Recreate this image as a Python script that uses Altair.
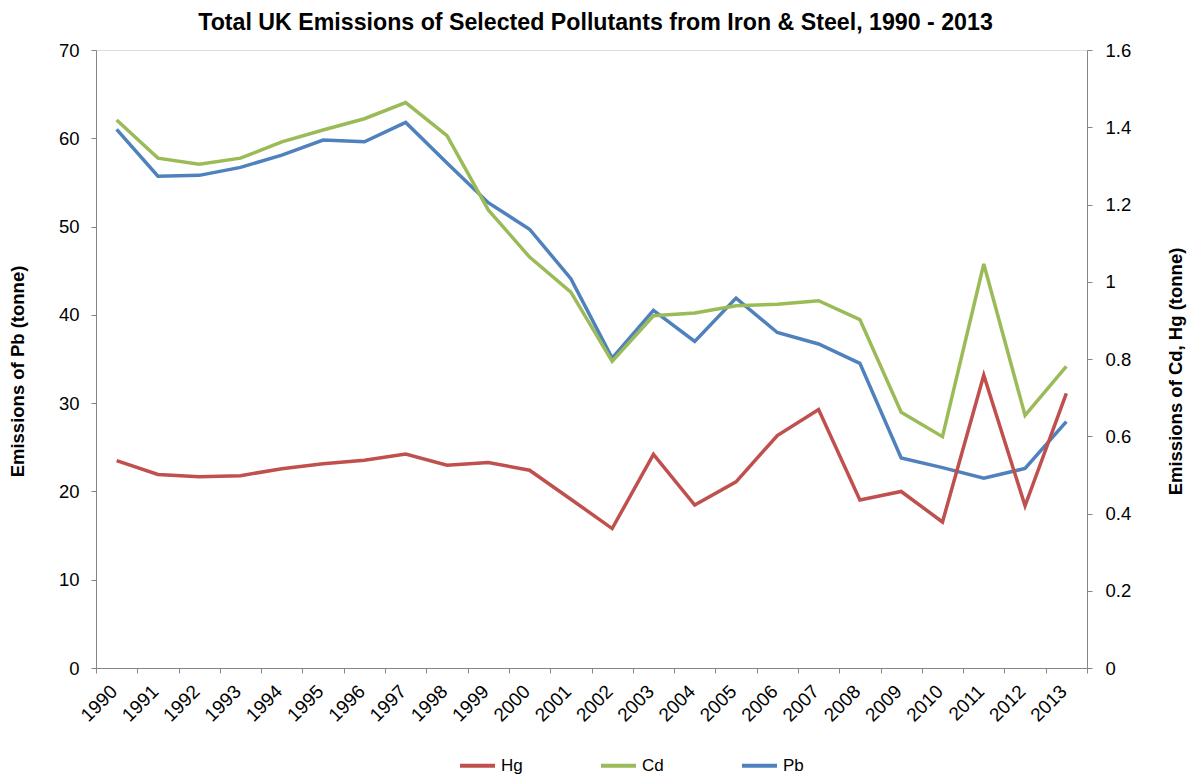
import altair as alt
import pandas as pd

# UK emissions from the iron & steel sector (tonnes)
years = [str(y) for y in range(1990, 2014)]
pb = [61.0, 55.7, 55.8, 56.7, 58.1, 59.8, 59.6, 61.8, 57.2, 52.7, 49.7, 44.1,
      35.1, 40.5, 37.0, 41.9, 38.0, 36.7, 34.5, 23.8, 22.7, 21.5, 22.6, 27.9]
cd = [1.419, 1.320, 1.304, 1.320, 1.362, 1.393, 1.422, 1.464, 1.378, 1.186, 1.064, 0.973,
      0.794, 0.912, 0.919, 0.938, 0.942, 0.951, 0.902, 0.662, 0.599, 1.046, 0.654, 0.781]
hg = [0.537, 0.501, 0.495, 0.498, 0.516, 0.529, 0.538, 0.554, 0.525, 0.532, 0.512, 0.437,
      0.361, 0.553, 0.422, 0.482, 0.602, 0.669, 0.435, 0.457, 0.378, 0.758, 0.420, 0.711]

series_names = ["Hg", "Cd", "Pb"]
series_colors = ["#C0504D", "#9BBB59", "#4F81BD"]
left_ticks = [0, 10, 20, 30, 40, 50, 60, 70]
right_ticks = [0, 0.2, 0.4, 0.6, 0.8, 1.0, 1.2, 1.4, 1.6]

rows = []
for name, vals in (("Hg", hg), ("Cd", cd), ("Pb", pb)):
    for y, v in zip(years, vals):
        rows.append({"year": y, "series": name, "value": v})
df = pd.DataFrame(rows)

FONT = "Liberation Sans"
AXIS_GREY = "#868686"

x_enc = alt.X(
    "year:O",
    scale=alt.Scale(type="band", paddingInner=0, paddingOuter=0),
    axis=alt.Axis(
        title=None, labelAngle=-45, labelAlign="right", labelBaseline="middle",
        labelFontSize=19, labelFont=FONT, labelColor="#000000",
        domainColor=AXIS_GREY, tickColor=AXIS_GREY, tickSize=5, tickBand="extent",
        labelPadding=15, labelOffset=-3,
    ),
)

color_enc = alt.Color(
    "series:N",
    scale=alt.Scale(domain=series_names, range=series_colors),
    legend=alt.Legend(
        title=None, orient="none", direction="horizontal", legendX=362, legendY=696,
        symbolType="stroke", symbolSize=1225, symbolStrokeWidth=4,
        labelFontSize=17, labelFont=FONT, labelColor="#000000", labelOffset=4,
        columnPadding=70,
    ),
)

pb_layer = alt.Chart(df).transform_filter(alt.datum.series == "Pb").mark_line(strokeWidth=3.5).encode(
    x=x_enc,
    y=alt.Y(
        "value:Q",
        scale=alt.Scale(domain=[0, 70], nice=False, zero=True),
        axis=alt.Axis(
            orient="left", values=left_ticks, grid=False, title="Emissions of Pb (tonne)",
            titleFont=FONT, titleFontSize=18.5, titleFontWeight="bold", titleColor="#000000",
            titleAngle=270, titleX=-79, titleY=321, titleAlign="center", titleBaseline="middle",
            labelFont=FONT, labelFontSize=18.5, labelColor="#000000", labelPadding=12,
            domainColor=AXIS_GREY, tickColor=AXIS_GREY, tickSize=5,
        ),
    ),
    color=color_enc,
)

cdhg_layer = alt.Chart(df).transform_filter(alt.datum.series != "Pb").mark_line(strokeWidth=3.5).encode(
    x=x_enc,
    y=alt.Y(
        "value:Q",
        scale=alt.Scale(domain=[0, 1.6], nice=False, zero=True),
        axis=alt.Axis(
            orient="right", values=right_ticks, format="~g", grid=False,
            title="Emissions of Cd, Hg (tonne)",
            titleFont=FONT, titleFontSize=18.5, titleFontWeight="bold", titleColor="#000000",
            titleAngle=270, titleX=88, titleY=321, titleAlign="center", titleBaseline="middle",
            labelFont=FONT, labelFontSize=18.5, labelColor="#000000", labelPadding=13,
            domainColor=AXIS_GREY, tickColor=AXIS_GREY, tickSize=5,
        ),
    ),
    color=color_enc,
)

chart = (
    alt.layer(pb_layer, cdhg_layer)
    .resolve_scale(y="independent")
    .properties(
        width=991,
        height=618,
        padding={"left": 96, "top": 50, "right": 104, "bottom": 108},
        autosize=alt.AutoSizeParams(type="none"),
        title=alt.TitleParams(
            text="Total UK Emissions of Selected Pollutants from Iron & Steel, 1990 - 2013",
            font=FONT, fontSize=23.2, fontWeight="bold", color="#000000",
            anchor="middle", offset=6, dx=4,
        ),
    )
    .configure_view(stroke=None)
    .configure(background="#ffffff")
)

chart.save("out.html", embed_options={"renderer": "svg", "actions": False})
